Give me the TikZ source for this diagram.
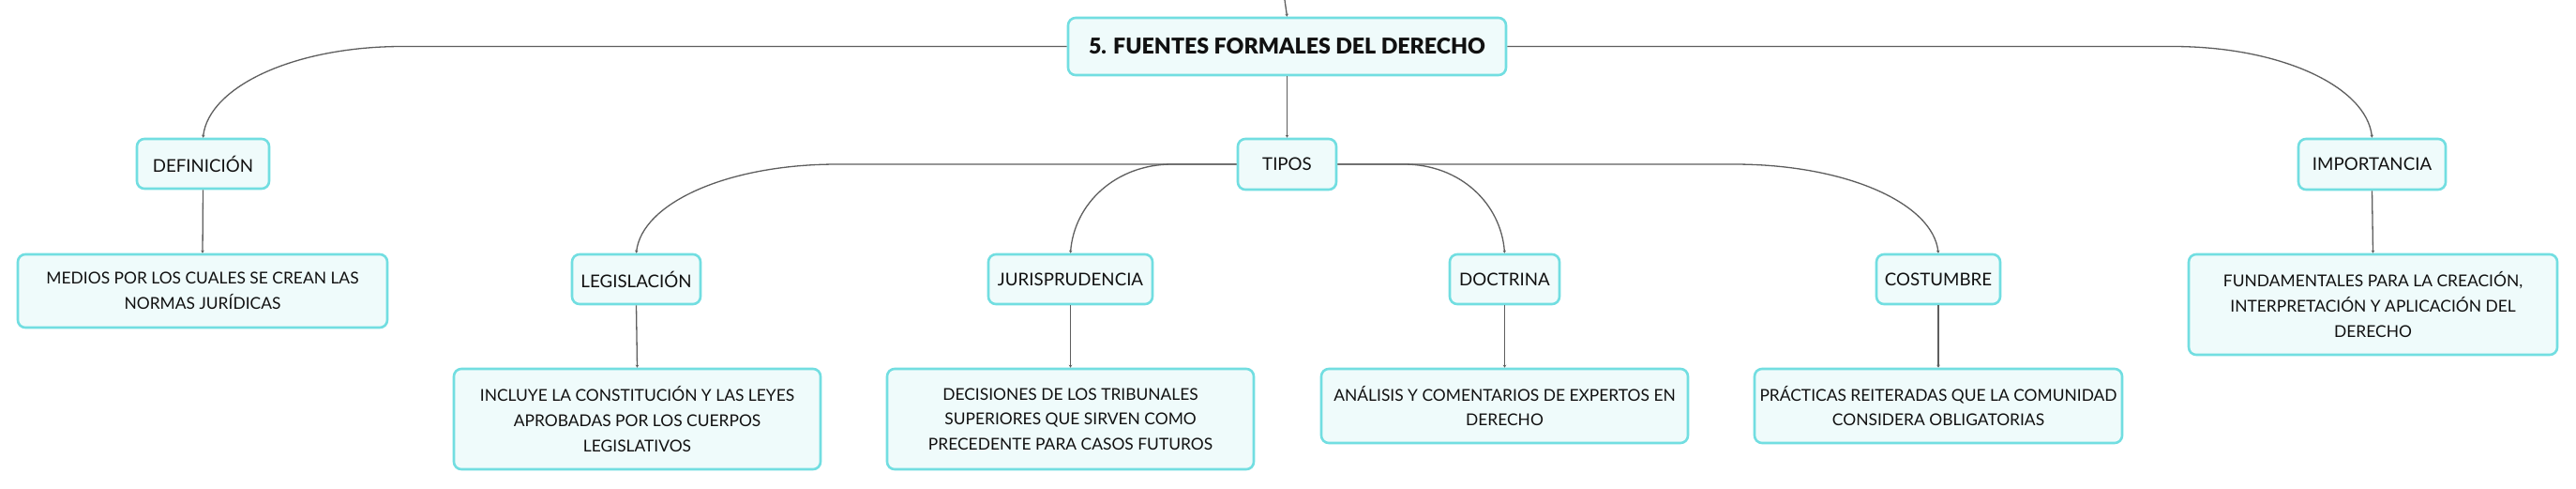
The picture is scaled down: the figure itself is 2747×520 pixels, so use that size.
\documentclass[tikz,border=0pt]{standalone}
\usepackage{fontspec}
\setmainfont{Lato}
\IfFontExistsTF{Lato Black}{\newfontfamily\titlefont{Lato Black}}{\newfontfamily\titlefont{Lato}[UprightFont=*-Bold]}
\usetikzlibrary{arrows.meta}
\definecolor{boxborder}{HTML}{72DEE1}
\definecolor{boxfill}{HTML}{EFFBFB}
\definecolor{linegray}{HTML}{5E5E5E}
\definecolor{txt}{HTML}{111111}
\tikzset{
  box/.style={draw=boxborder, fill=boxfill, line width=2.6pt, rounded corners=8pt,
    inner sep=0pt, align=center, text=txt},
  titlebox/.style={box, font=\titlefont\fontsize{23.2}{28}\selectfont},
  labelbox/.style={box, font=\fontsize{18.7}{24}\selectfont, minimum height=53pt},
  infobox/.style={box, font=\fontsize{17.4}{26.7}\selectfont},
  conn/.style={draw=linegray, line width=1.3pt, -{Stealth[length=3pt,width=3.5pt]}},
}
\begin{document}
\begin{tikzpicture}[x=1pt,y=-1pt]
\useasboundingbox[fill=white] (0,0) rectangle (2747,520);
% root
\node[titlebox, minimum width=467pt, minimum height=61pt] (title) at (1372.5,49.5) {5. FUENTES FORMALES DEL DERECHO};
\coordinate (top) at (1370,0);
% level 1
\node[labelbox, minimum width=141pt] (definicion) at (216.5,174.5) {DEFINICIÓN};
\node[labelbox, minimum width=105pt, minimum height=54pt] (tipos) at (1372.5,175) {TIPOS};
\node[labelbox, minimum width=157pt, minimum height=54pt] (importancia) at (2529.5,175) {IMPORTANCIA};
% level 2
\node[infobox, minimum width=394pt, minimum height=78pt] (medios) at (216,310) {MEDIOS POR LOS CUALES SE CREAN LAS\\NORMAS JURÍDICAS};
\node[infobox, minimum width=393pt, minimum height=107pt] (fundamentales) at (2530.5,324.5) {FUNDAMENTALES PARA LA CREACIÓN,\\INTERPRETACIÓN Y APLICACIÓN DEL\\DERECHO};
\node[labelbox, minimum width=137pt] (legislacion) at (678.5,297.5) {LEGISLACIÓN};
\node[labelbox, minimum width=175pt] (jurisprudencia) at (1141.5,297.5) {JURISPRUDENCIA};
\node[labelbox, minimum width=117pt] (doctrina) at (1604.5,297.5) {DOCTRINA};
\node[labelbox, minimum width=132pt] (costumbre) at (2067,297.5) {COSTUMBRE};
% level 3
\node[infobox, minimum width=391pt, minimum height=107pt] (incluye) at (679.5,446.5) {INCLUYE LA CONSTITUCIÓN Y LAS LEYES\\APROBADAS POR LOS CUERPOS\\LEGISLATIVOS};
\node[infobox, minimum width=391pt, minimum height=107pt] (decisiones) at (1141.5,446.5) {DECISIONES DE LOS TRIBUNALES\\SUPERIORES QUE SIRVEN COMO\\PRECEDENTE PARA CASOS FUTUROS};
\node[infobox, minimum width=391pt, minimum height=79pt] (analisis) at (1604.5,432.5) {ANÁLISIS Y COMENTARIOS DE EXPERTOS EN\\DERECHO};
\node[infobox, minimum width=392pt, minimum height=79pt] (practicas) at (2067,432.5) {PRÁCTICAS REITERADAS QUE LA COMUNIDAD\\CONSIDERA OBLIGATORIAS};
% bend points
\coordinate (hDef) at (429,49.5);
\coordinate (hImp) at (2317,49.5);
\coordinate (hLeg) at (893,175);
\coordinate (hJur) at (1250,175);
\coordinate (hDoc) at (1497,175);
\coordinate (hCos) at (1849,175);
% connectors
\draw[conn] (top) -- (title.north);
\draw[conn] (title.south) -- (tipos.north);
\draw[conn] (title.west) -- (hDef) .. controls +(-116,0) and +(6,-54) .. (definicion.north);
\draw[conn] (title.east) -- (hImp) .. controls +(116,0) and +(-6,-54) .. (importancia.north);
\draw[conn] (tipos.west) -- (hLeg) .. controls +(-118,0) and +(6,-53) .. (legislacion.north);
\draw[conn] (tipos.west) -- (hJur) .. controls +(-60,0) and +(4,-53) .. (jurisprudencia.north);
\draw[conn] (tipos.east) -- (hDoc) .. controls +(60,0) and +(-4,-53) .. (doctrina.north);
\draw[conn] (tipos.east) -- (hCos) .. controls +(120,0) and +(-6,-53) .. (costumbre.north);
\draw[conn] (definicion.south) -- (medios.north);
\draw[conn] (importancia.south) -- (fundamentales.north);
\draw[conn] (legislacion.south) -- (incluye.north);
\draw[conn] (jurisprudencia.south) -- (decisiones.north);
\draw[conn] (doctrina.south) -- (analisis.north);
\draw[conn] (costumbre.south) -- (practicas.north);
\end{tikzpicture}
\end{document}
